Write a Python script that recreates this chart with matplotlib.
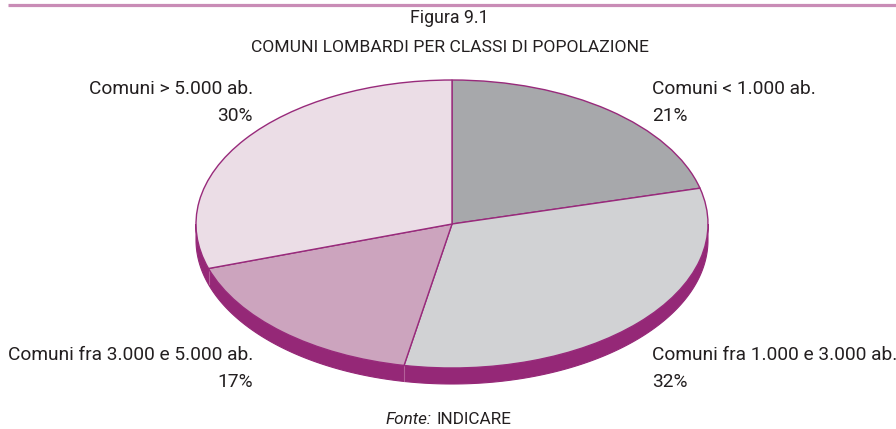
import matplotlib
matplotlib.use("Agg")
import matplotlib.pyplot as plt
import numpy as np
from matplotlib.patches import Polygon

plt.rcParams['font.family'] = ['Roboto', 'DejaVu Sans']

# quote percentuali, in senso orario a partire da ore 12
classi = ["Comuni < 1.000 ab.", "Comuni fra 1.000 e 3.000 ab.",
          "Comuni fra 3.000 e 5.000 ab.", "Comuni > 5.000 ab."]
quote = [21, 32, 17, 30]
colori = ["#a7a8ab", "#d1d2d4", "#cca4be", "#ebdde6"]

BORDO = "#982a7b"
FASCIA = "#952877"
TESTO = "#231f20"

W, H = 896, 429
fig = plt.figure(figsize=(W / 100, H / 100), dpi=100)

# ellisse della torta (pixel): centro, semiassi, spessore del bordo 3D
cx, cy, rx, ry, spess = 452, 224, 256, 144, 16

def box(x0, y0, w, h):
    return [x0 / W, 1 - (y0 + h) / H, w / W, h / H]

ax = fig.add_axes(box(cx - rx, cy - ry, 2 * rx, 2 * ry))
d = spess / ry

# fascia laterale
t = np.linspace(np.pi, 2 * np.pi, 200)
sotto = np.column_stack([np.cos(t), np.sin(t) - d])
sopra = np.column_stack([np.cos(t[::-1]), np.sin(t[::-1])])
ax.add_patch(Polygon(np.vstack([sotto, sopra]), closed=True,
                     facecolor=FASCIA, edgecolor=FASCIA, lw=0.8,
                     clip_on=False, zorder=0))

wedges, _ = ax.pie(quote, colors=colori, startangle=90, counterclock=False,
                   radius=1, center=(0, 0),
                   wedgeprops=dict(edgecolor=BORDO, linewidth=1.0))
for w in wedges:
    w.set_clip_on(False)
    w.set_zorder(2)

# linee chiare sulla fascia in corrispondenza dei confini fra spicchi
cum = np.cumsum(quote) / sum(quote)
for c in cum[:-1]:
    ang = np.deg2rad(90 - 360 * c)
    if np.sin(ang) < 0:
        x, y = np.cos(ang), np.sin(ang)
        ax.plot([x, x], [y, y - d], color="#b4609a", lw=0.8,
                clip_on=False, zorder=1)

ax.set_aspect("auto")
ax.set_xlim(-1, 1)
ax.set_ylim(-1, 1)
ax.axis("off")

# testi in coordinate pixel
tx = fig.add_axes([0, 0, 1, 1], zorder=-1)
tx.set_xlim(0, W)
tx.set_ylim(H, 0)
tx.axis("off")

tx.plot([8, W], [4.5, 4.5], color="#c98cb6", lw=2.3, solid_capstyle="butt")
tx.text(449, 18, "Figura 9.1", ha="center", va="center", fontsize=12.8, color=TESTO)
tx.text(450, 48, "COMUNI LOMBARDI PER CLASSI DI POPOLAZIONE",
        ha="center", va="center", fontsize=12.6, color=TESTO)

fs = 13.8
pos = [(652, 89, "left"), (652, 355, "left"), (253, 355, "right"), (253, 89, "right")]
for (x, y, al), nome, q in zip(pos, classi, quote):
    tx.text(x, y, nome, ha=al, va="center", fontsize=fs, color=TESTO)
    tx.text(x, y + 27, f"{q}%", ha=al, va="center", fontsize=fs, color=TESTO)

tx.text(432, 419, "Fonte:", ha="right", va="center", fontsize=12.3,
        style="italic", color=TESTO)
tx.text(437, 419, "INDICARE", ha="left", va="center", fontsize=12.3, color=TESTO)

fig.savefig("out.png", dpi=100)
